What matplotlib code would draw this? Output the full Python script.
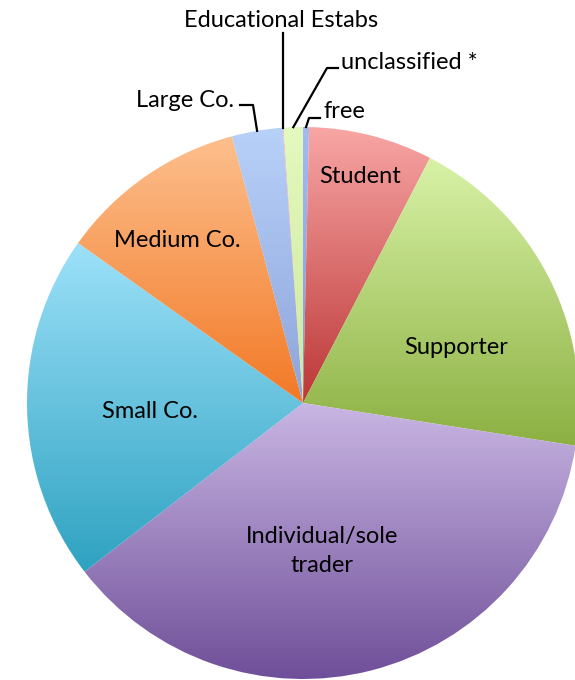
import numpy as np
import matplotlib
matplotlib.use("Agg")
import matplotlib.pyplot as plt
from matplotlib.colors import LinearSegmentedColormap

# share of members by category (percent), clockwise from 12 o'clock
categories = ["free", "Student", "Supporter", "Individual/sole\ntrader", "Small Co.",
              "Medium Co.", "Large Co.", "Educational Estabs", "unclassified *"]
values = [0.35, 7.26, 19.87, 37.06, 20.31, 11.01, 2.98, 0.05, 1.12]

# gradient colours (top, bottom) for each slice
top_colors = ["#A3BBF0", "#F8A6A5", "#D8F2A6", "#C9B6E3", "#9DE1F9",
              "#FDBF8D", "#B8D1F9", "#F7B7B7", "#E4F9BE"]
bottom_colors = ["#7F9AD8", "#BC3737", "#8CB042", "#6F4F99", "#2EA2C1",
                 "#F27926", "#8DA4DA", "#E58C8C", "#CDE89E"]

W, H = 575, 680
CX, CY, R = 303, 403, 276


def px(x, y):
    return (x - CX) / R, (CY - y) / R


fig = plt.figure(figsize=(W / 100, H / 100), dpi=100)
ax = fig.add_axes([0, 0, 1, 1])

wedges, _ = ax.pie(values, startangle=90, counterclock=False, radius=1,
                   wedgeprops=dict(linewidth=0, edgecolor="none"))

grad = np.linspace(0, 1, 256).reshape(-1, 1)
for w, c0, c1 in zip(wedges, top_colors, bottom_colors):
    w.set_facecolor("none")
    ext = w.get_path().get_extents()
    cmap = LinearSegmentedColormap.from_list("g", [c0, c1])
    im = ax.imshow(grad, cmap=cmap, origin="upper", aspect="auto",
                   extent=[ext.x0, ext.x1, ext.y0, ext.y1], interpolation="bilinear")
    im.set_clip_path(w)

x0, y0 = px(0, H)
x1, y1 = px(W, 0)
ax.set_xlim(x0, x1)
ax.set_ylim(y0, y1)
ax.set_aspect("auto")
ax.axis("off")

font = dict(family=["Lato", "DejaVu Sans"], fontsize=17, color="black")


def anchor(w):
    t = np.deg2rad((w.theta1 + w.theta2) / 2)
    return np.cos(t), np.sin(t)


# inside labels
inside = {1: (360, 176), 2: (456, 347), 3: (322, 551), 4: (150, 411), 5: (177, 240)}
for i, (x, y) in inside.items():
    ax.text(*px(x, y), categories[i], ha="center", va="center", linespacing=1.5, **font)

lw = 1.6
# Large Co.
ax.text(*px(234, 100), categories[6], ha="right", va="center", **font)
a = anchor(wedges[6])
e = px(253, 105)
ax.plot([px(240, 105)[0], e[0], a[0]], [e[1], e[1], a[1]], color="black", lw=lw)

# Educational Estabs
ax.text(*px(281, 20), categories[7], ha="center", va="center", **font)
a = anchor(wedges[7])
ax.plot([a[0], a[0]], [px(0, 33)[1], a[1]], color="black", lw=lw)

# unclassified
ax.text(*px(341, 62), categories[8], ha="left", va="center", **font)
a = anchor(wedges[8])
e = px(327, 68)
ax.plot([px(338, 68)[0], e[0], a[0]], [e[1], e[1], a[1]], color="black", lw=lw)

# free
ax.text(*px(323, 111), categories[0], ha="left", va="center", **font)
a = anchor(wedges[0])
e = px(309, 118)
ax.plot([px(320, 118)[0], e[0], a[0]], [e[1], e[1], a[1]], color="black", lw=lw)

fig.savefig("out.png", dpi=100)
